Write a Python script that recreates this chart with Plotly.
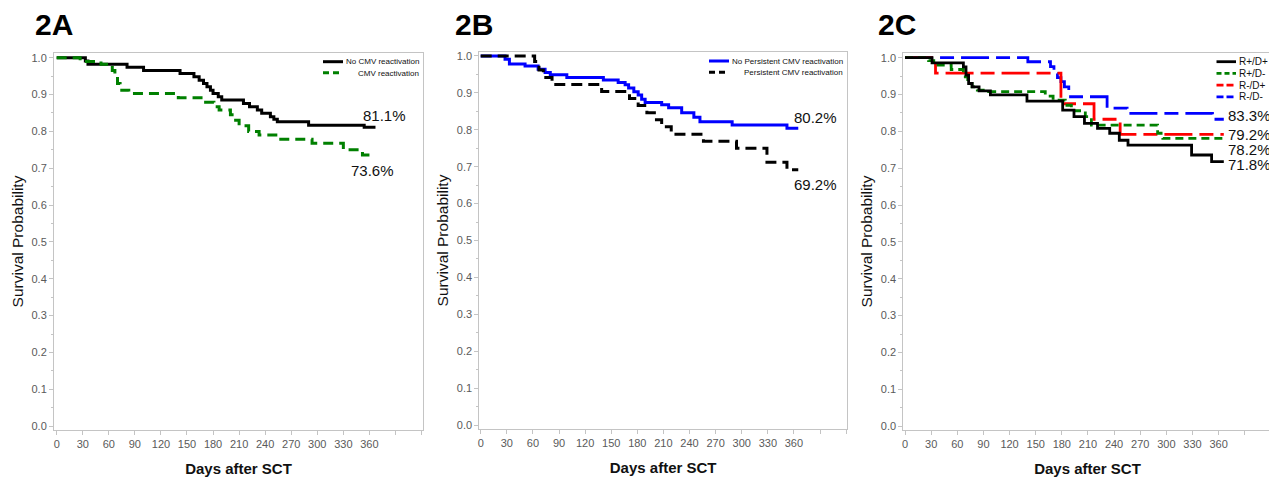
import plotly.graph_objects as go

# The page body has an 8px default margin, so the figure is drawn 8px right/down of the window origin.
OFF = 8
W, H = 1277 - OFF, 481 - OFF
FONT = "Arial, Liberation Sans, sans-serif"

# ---------------- data (Kaplan-Meier steps: event times in days, survival after step) -------------
# Panel 2A
A_no_t = [0, 33, 36, 81, 100, 142, 158, 164, 169, 173, 177, 180, 186, 190, 215, 222, 231, 236, 246, 250, 254, 290, 354]
A_no_s = [1.0, 0.991, 0.982, 0.974, 0.965, 0.957, 0.948, 0.939, 0.93, 0.921, 0.912, 0.903, 0.894, 0.885,
          0.876, 0.867, 0.858, 0.849, 0.84, 0.833, 0.826, 0.817, 0.811]
A_no_end = 367
A_cmv_t = [0, 27, 51, 64, 67, 70, 73, 83, 140, 169, 181, 187, 200, 206, 210, 221, 233, 255, 294, 330, 352]
A_cmv_s = [1.0, 0.99, 0.982, 0.965, 0.948, 0.93, 0.912, 0.903, 0.891, 0.879, 0.867, 0.858, 0.845, 0.83,
           0.815, 0.80, 0.79, 0.779, 0.768, 0.75, 0.736]
A_cmv_end = 366

# Panel 2B
B_no_t = [0, 28, 33, 51, 66, 74, 80, 99, 141, 158, 166, 170, 176, 181, 185, 189, 208, 216, 231, 245, 252, 289, 352]
B_no_s = [1.0, 0.991, 0.978, 0.973, 0.964, 0.955, 0.949, 0.942, 0.935, 0.928, 0.922, 0.913, 0.903, 0.894,
          0.883, 0.874, 0.868, 0.86, 0.846, 0.834, 0.822, 0.813, 0.804]
B_no_end = 365
B_pers_t = [0, 62, 67, 72, 82, 139, 171, 181, 191, 202, 208, 219, 256, 294, 329, 352]
B_pers_s = [1.0, 0.985, 0.962, 0.942, 0.923, 0.904, 0.885, 0.866, 0.846, 0.827, 0.808, 0.788, 0.769, 0.75,
            0.712, 0.692]
B_pers_end = 365

# Panel 2C
C_pp_t = [0, 31, 67, 70, 73, 77, 85, 98, 140, 181, 194, 206, 221, 235, 246, 256, 329, 352]
C_pp_s = [1.0, 0.986, 0.975, 0.953, 0.93, 0.921, 0.91, 0.899, 0.882, 0.858, 0.84, 0.822, 0.808, 0.795,
          0.776, 0.763, 0.736, 0.718]
C_pp_end = 366
C_pm_t = [0, 27, 33, 53, 67, 72, 77, 83, 96, 161, 170, 184, 191, 207, 214, 290, 296]
C_pm_s = [1.0, 0.992, 0.98, 0.968, 0.948, 0.93, 0.921, 0.912, 0.908, 0.896, 0.885, 0.871, 0.856, 0.84,
          0.817, 0.795, 0.781]
C_pm_end = 366
C_mp_t = [0, 35, 179, 217, 247]
C_mp_s = [1.0, 0.958, 0.875, 0.833, 0.792]
C_mp_end = 366
C_mm_t = [0, 141, 167, 171, 175, 179, 183, 188, 190, 232, 255, 353]
C_mm_s = [1.0, 0.989, 0.976, 0.957, 0.946, 0.935, 0.921, 0.908, 0.894, 0.863, 0.849, 0.833]
C_mm_end = 366

X_TICKS = [0, 30, 60, 90, 120, 150, 180, 210, 240, 270, 300, 330, 360, 390, 420]
X_TICKTEXT = ["0", "30", "60", "90", "120", "150", "180", "210", "240", "270", "300", "330", "360", "", ""]

PANEL_TITLES = ["2A", "2B", "2C"]

# ---------------- helpers (window pixel -> paper fraction) -------------
def px(x):
    return (x - OFF) / W

def py(y):
    return 1 - (y - OFF) / H

def steps(t, s, end):
    return t + [end], s + [s[-1]]

fig = go.Figure()

def add_km(t, s, end, color, width, dash, ax):
    xs, ys = steps(t, s, end)
    fig.add_trace(go.Scatter(x=xs, y=ys, mode="lines", line=dict(color=color, width=width, dash=dash, shape="hv"),
                             xaxis="x" + ax, yaxis="y" + ax, showlegend=False, hoverinfo="skip"))

GREEN = "#008000"
add_km(A_no_t, A_no_s, A_no_end, "#000000", 3, "solid", "")
add_km(A_cmv_t, A_cmv_s, A_cmv_end, GREEN, 3, "10px,6px", "")
add_km(B_no_t, B_no_s, B_no_end, "#0000ff", 3, "solid", "2")
add_km(B_pers_t, B_pers_s, B_pers_end, "#000000", 3, "11px,6px", "2")
add_km(C_mm_t, C_mm_s, C_mm_end, "#0000ff", 2.8, "28px,7px,14px,7px", "3")
add_km(C_mp_t, C_mp_s, C_mp_end, "#ff0000", 2.8, "28px,7px,14px,7px", "3")
add_km(C_pm_t, C_pm_s, C_pm_end, GREEN, 2.8, "8px,5px", "3")
add_km(C_pp_t, C_pp_s, C_pp_end, "#000000", 2.8, "solid", "3")

# ---------------- axes -------------
panels = [
    # (suffix, left, right, top, bottom, xrange, yrange)  -- pixel positions in the window
    ("", 54, 423, 53, 430, [-3.1, 421.7], [-0.0105, 1.0128]),
    ("2", 479.3, 847, 52, 429, [-1.6, 421.0], [-0.0108, 1.0108]),
    ("3", 903.3, 1271.7, 53, 430, [-2.0, 421.0], [-0.0105, 1.0128]),
]
AXCOL = "#c4c4c4"
TICKFONT = dict(family=FONT, size=11, color="#5a5a5a")
for suf, l, r, t, b, xr, yr in panels:
    fig.layout["xaxis" + suf] = dict(
        domain=[px(l), px(r)], range=xr, anchor="y" + suf, showline=True, linecolor=AXCOL, linewidth=1,
        mirror=True, ticks="outside", ticklen=4, tickcolor=AXCOL, tickmode="array", tickvals=X_TICKS,
        ticktext=X_TICKTEXT, tickfont=TICKFONT, showgrid=False, zeroline=False, automargin=False,
        title=dict(text="Days after SCT", font=dict(family=FONT, size=15, color="#111111", weight="bold"),
                   standoff=14))
    fig.layout["yaxis" + suf] = dict(
        domain=[py(b), py(t)], range=yr, anchor="x" + suf, showline=True, linecolor=AXCOL, linewidth=1,
        mirror=True, ticks="outside", ticklen=4, tickcolor=AXCOL, tickmode="linear", tick0=0, dtick=0.1,
        tickformat=".1f", tickfont=TICKFONT, showgrid=False, zeroline=False, automargin=False,
        minor=dict(ticks="outside", ticklen=2, tickcolor=AXCOL, dtick=0.05, tick0=0, showgrid=False),
        title=dict(text="Survival Probability", font=dict(family=FONT, size=15.5, color="#111111"), standoff=4))

# ---------------- annotations -------------
ann = []
for title, xl in zip(PANEL_TITLES, [33, 453.3, 876]):
    ann.append(dict(text=title, x=px(xl), y=py(25), xref="paper", yref="paper", xanchor="left",
                    yanchor="middle", showarrow=False, font=dict(family=FONT, size=30, color="#000", weight="bold")))

PCT = dict(family=FONT, size=15, color="#111111")
def pct(text, x, y, ax, xanchor="center"):
    ann.append(dict(text=text, x=x, y=y, xref="x" + ax, yref="y" + ax, xanchor=xanchor, yanchor="middle",
                    showarrow=False, font=PCT))

pct("81.1%", 377, 0.844, "")
pct("73.6%", 364, 0.693, "")
pct("80.2%", 385, 0.832, "2")
pct("69.2%", 385, 0.653, "2")
pct("83.3%", 368.5, 0.842, "3", "left")
pct("79.2%", 368.5, 0.792, "3", "left")
pct("78.2%", 368.5, 0.752, "3", "left")
pct("71.8%", 368.5, 0.711, "3", "left")

# legends (drawn as key lines + text)
shapes = []
def key(x0, x1, y, color, width, dash):
    shapes.append(dict(type="line", xref="paper", yref="paper", x0=px(x0), x1=px(x1), y0=py(y), y1=py(y),
                       line=dict(color=color, width=width, dash=dash)))

def legtext(text, x, y, xanchor, size=8):
    ann.append(dict(text=text, x=px(x), y=py(y), xref="paper", yref="paper", xanchor=xanchor, yanchor="middle",
                    showarrow=False, font=dict(family=FONT, size=size, color="#111111")))

key(323, 343, 61.7, "#000000", 3, "solid")
key(323, 343, 72.7, GREEN, 3, "6px,4px")
legtext("No CMV reactivation", 420.5, 62, "right")
legtext("CMV reactivation", 420.5, 73, "right")

key(709, 729, 61, "#0000ff", 3, "solid")
key(709, 729, 72.3, "#000000", 3, "6px,4px")
legtext("No Persistent CMV reactivation", 844.5, 61.3, "right")
legtext("Persistent CMV reactivation", 844.5, 72.5, "right")

C_LEG = [("R+/D+", "#000000", "solid"), ("R+/D-", GREEN, "5px,3px"), ("R-/D+", "#ff0000", "7px,3px"),
         ("R-/D-", "#0000ff", "7px,3px")]
for i, (lab, col, dsh) in enumerate(C_LEG):
    yy = 61.7 + i * 11.7
    key(1216.5, 1236, yy, col, 2.8, dsh)
    legtext(lab, 1236.5, yy, "left", size=10)

fig.update_layout(width=W, height=H, margin=dict(l=0, r=0, t=0, b=0), paper_bgcolor="white",
                  plot_bgcolor="white", annotations=ann, shapes=shapes, showlegend=False,
                  font=dict(family=FONT))

fig.write_html("out.html")
